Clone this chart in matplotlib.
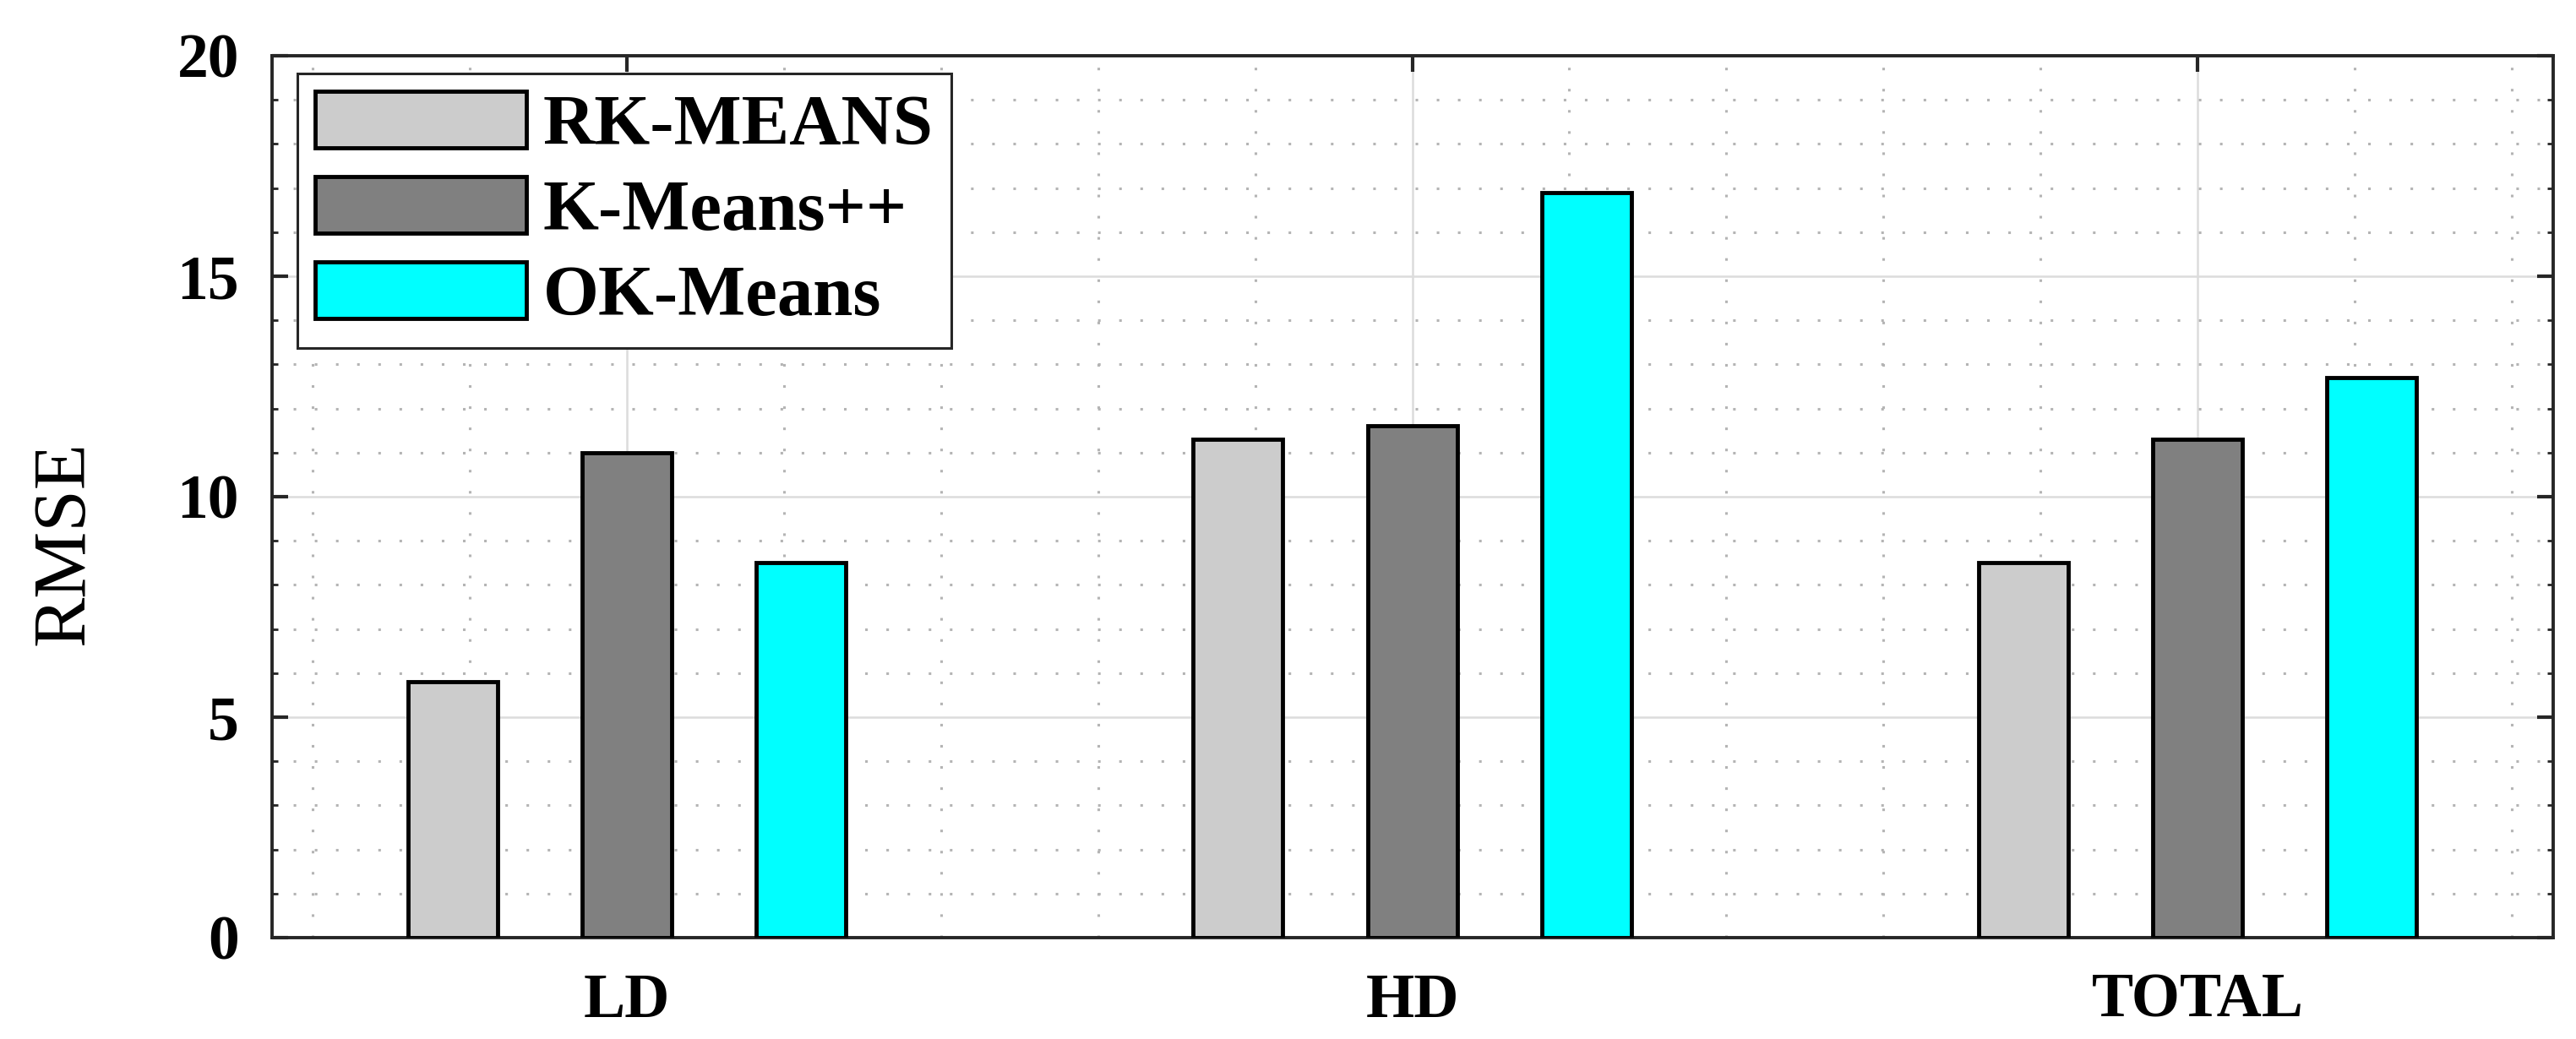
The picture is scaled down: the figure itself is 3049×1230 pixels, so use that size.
import matplotlib
matplotlib.use("Agg")
import matplotlib.pyplot as plt
from matplotlib.ticker import MultipleLocator, FixedLocator
import numpy as np

# ---- data ----
categories = ["LD", "HD", "TOTAL"]
series_names = ["RK-MEANS", "K-Means++", "OK-Means"]
rk_means = [5.8, 11.3, 8.5]
kmeans_pp = [11.0, 11.6, 11.3]
ok_means = [8.5, 16.9, 12.7]
y_ticks = [0, 5, 10, 15, 20]
y_label = "RMSE"

series_values = [rk_means, kmeans_pp, ok_means]
colors = ["#cccccc", "#808080", "#00ffff"]

plt.rcParams["font.family"] = ["Liberation Serif", "DejaVu Serif"]

W, H = 3049, 1230
fig = plt.figure(figsize=(W / 100, H / 100), dpi=100)
L, R, T, B = 322, 3022, 66, 1110
ax = fig.add_axes([L / W, (H - B) / H, (R - L) / W, (B - T) / H])

x = np.arange(1, len(categories) + 1)
width = 0.114
offsets = [-0.222, 0.0, 0.222]
for vals, name, col, off in zip(series_values, series_names, colors, offsets):
    ax.bar(x + off, vals, width=width, color=col, edgecolor="black",
           linewidth=3.5, label=name, zorder=3)

ax.set_xlim(0.548, 3.453)
ax.set_ylim(0, 20)
ax.set_xticks(x)
ax.set_xticklabels(categories, fontsize=53, fontweight="bold")
ax.set_yticks(y_ticks)
ax.set_yticklabels([str(v) for v in y_ticks], fontsize=53, fontweight="bold")
ax.xaxis.set_minor_locator(FixedLocator([v for v in np.arange(0.6, 3.45, 0.2)
                                         if abs(v - round(v)) > 1e-6]))
ax.yaxis.set_minor_locator(MultipleLocator(1))

ax.set_axisbelow(True)
ax.grid(True, which="major", color="#dcdcdc", linewidth=1.8, linestyle="-")
ax.grid(True, which="minor", color="#b4b4b4", linewidth=2.2, linestyle=(0, (1, 7.2)))

ax.tick_params(axis="both", which="major", direction="in", length=14,
               width=3, color="#262626", top=True, right=True)
ax.tick_params(axis="y", which="major", pad=28)
ax.tick_params(axis="x", which="major", pad=30)
ax.tick_params(axis="y", which="minor", direction="in", length=5, width=2,
               color="#262626", left=True, right=True)
ax.tick_params(axis="x", which="minor", length=0)

for sp in ax.spines.values():
    sp.set_linewidth(2.8)
    sp.set_color("#262626")

ax.set_ylabel(y_label, fontsize=64)
ax.yaxis.set_label_coords(-0.0759, 0.447)

leg = ax.legend(loc="upper left", bbox_to_anchor=(0.0111, 0.980),
                borderaxespad=0, prop={"weight": "bold", "size": 61},
                handlelength=2.95, handleheight=0.84, handletextpad=0.23,
                labelspacing=0.24, borderpad=0.25, fancybox=False,
                framealpha=1, edgecolor="#262626")
leg.get_frame().set_linewidth(2.2)

fig.savefig("out.png", dpi=100, facecolor="white")
